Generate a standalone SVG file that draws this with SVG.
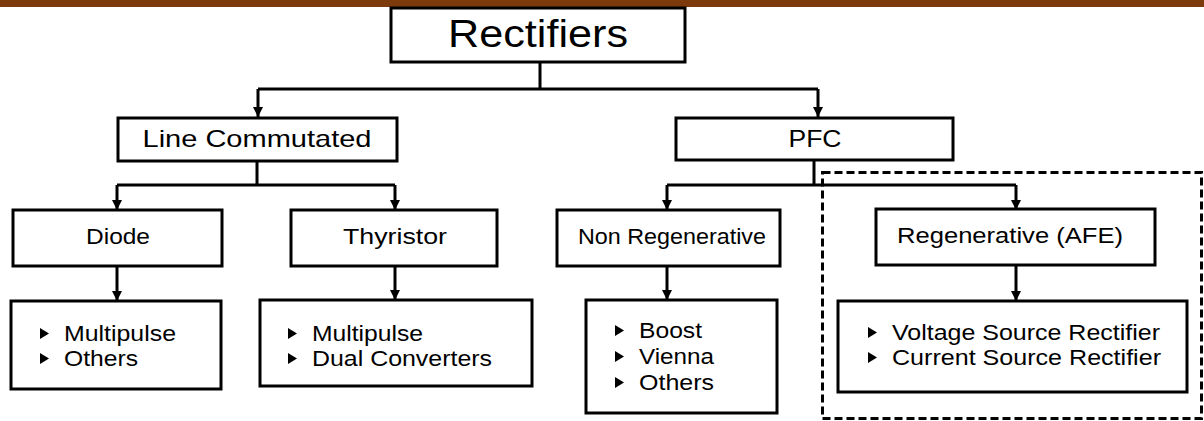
<svg xmlns="http://www.w3.org/2000/svg" width="1204" height="421" viewBox="0 0 1204 421">
<style>
.box{fill:#fff;stroke:#000;stroke-width:3}
.ln{fill:none;stroke:#000;stroke-width:3}
.t{font-family:"Liberation Sans",Arial,sans-serif;fill:#000}
.c{text-anchor:middle}
.dash{fill:none;stroke:#000;stroke-width:3;stroke-dasharray:8 4}
</style>
<defs>
<marker id="ah" markerWidth="10" markerHeight="10" refX="5" refY="10" orient="0" markerUnits="userSpaceOnUse" viewBox="0 0 10 10">
<path d="M0,0 L10,0 L5,10 Z" fill="#000"/>
</marker>
<path id="bul" d="M0,-13 L9,-7.5 L0,-2 Z" fill="#000"/>
</defs>
<rect x="0" y="0" width="1204" height="7" fill="#7d3a0c"/>
<rect class="dash" x="822.5" y="172.5" width="379" height="246"/>
<g id="connectors">
<path class="ln" d="M540,62 V89 M258,89 H818"/>
<path class="ln" d="M258,89 V117" marker-end="url(#ah)"/>
<path class="ln" d="M818,89 V117" marker-end="url(#ah)"/>
<path class="ln" d="M257,161 V185 M117,185 H395"/>
<path class="ln" d="M117,185 V210" marker-end="url(#ah)"/>
<path class="ln" d="M395,185 V210" marker-end="url(#ah)"/>
<path class="ln" d="M814,160 V185 M667,185 H1016"/>
<path class="ln" d="M667,185 V210" marker-end="url(#ah)"/>
<path class="ln" d="M1016,185 V210" marker-end="url(#ah)"/>
<path class="ln" d="M117,266 V301" marker-end="url(#ah)"/>
<path class="ln" d="M395,266 V300" marker-end="url(#ah)"/>
<path class="ln" d="M667,266 V300" marker-end="url(#ah)"/>
<path class="ln" d="M1016,265 V301" marker-end="url(#ah)"/>
</g>
<g id="n-rectifiers">
<rect class="box" x="391" y="8" width="294" height="54"/>
<text class="t c" x="538" y="47" font-size="38" textLength="180" lengthAdjust="spacingAndGlyphs">Rectifiers</text>
</g>
<g id="n-line">
<rect class="box" x="118" y="118" width="279" height="43"/>
<text class="t c" x="257" y="147" font-size="24" textLength="229" lengthAdjust="spacingAndGlyphs">Line Commutated</text>
</g>
<g id="n-pfc">
<rect class="box" x="676" y="118" width="277" height="42"/>
<text class="t c" x="815" y="147" font-size="24" textLength="53" lengthAdjust="spacingAndGlyphs">PFC</text>
</g>
<g id="n-diode">
<rect class="box" x="13" y="210" width="209" height="56"/>
<text class="t c" x="118" y="244" font-size="22" textLength="64" lengthAdjust="spacingAndGlyphs">Diode</text>
</g>
<g id="n-thyristor">
<rect class="box" x="291" y="210" width="206" height="56"/>
<text class="t c" x="395" y="244" font-size="22" textLength="104" lengthAdjust="spacingAndGlyphs">Thyristor</text>
</g>
<g id="n-nonregen">
<rect class="box" x="557" y="210" width="223" height="56"/>
<text class="t c" x="672" y="244" font-size="22" textLength="188" lengthAdjust="spacingAndGlyphs">Non Regenerative</text>
</g>
<g id="n-regen">
<rect class="box" x="876" y="209" width="279" height="56"/>
<text class="t c" x="1010" y="243" font-size="22" textLength="226" lengthAdjust="spacingAndGlyphs">Regenerative (AFE)</text>
</g>
<g id="n-diode-list">
<rect class="box" x="11" y="301" width="210" height="88"/>
<use href="#bul" x="40" y="341"/>
<use href="#bul" x="40" y="366"/>
<text class="t" x="64" y="341" font-size="22" textLength="112" lengthAdjust="spacingAndGlyphs">Multipulse</text>
<text class="t" x="64" y="366" font-size="22" textLength="74" lengthAdjust="spacingAndGlyphs">Others</text>
</g>
<g id="n-thyristor-list">
<rect class="box" x="260" y="300" width="272" height="86"/>
<use href="#bul" x="288" y="341"/>
<use href="#bul" x="288" y="366"/>
<text class="t" x="312" y="341" font-size="22" textLength="111" lengthAdjust="spacingAndGlyphs">Multipulse</text>
<text class="t" x="312" y="366" font-size="22" textLength="180" lengthAdjust="spacingAndGlyphs">Dual Converters</text>
</g>
<g id="n-nonregen-list">
<rect class="box" x="586" y="300" width="191" height="113"/>
<use href="#bul" x="615" y="338"/>
<use href="#bul" x="615" y="364"/>
<use href="#bul" x="615" y="390"/>
<text class="t" x="639" y="338" font-size="22" textLength="63" lengthAdjust="spacingAndGlyphs">Boost</text>
<text class="t" x="639" y="364" font-size="22" textLength="75" lengthAdjust="spacingAndGlyphs">Vienna</text>
<text class="t" x="639" y="390" font-size="22" textLength="75" lengthAdjust="spacingAndGlyphs">Others</text>
</g>
<g id="n-regen-list">
<rect class="box" x="838" y="301" width="349" height="91"/>
<use href="#bul" x="868" y="340"/>
<use href="#bul" x="868" y="365"/>
<text class="t" x="892" y="340" font-size="22" textLength="268" lengthAdjust="spacingAndGlyphs">Voltage Source Rectifier</text>
<text class="t" x="892" y="365" font-size="22" textLength="269" lengthAdjust="spacingAndGlyphs">Current Source Rectifier</text>
</g>
</svg>
